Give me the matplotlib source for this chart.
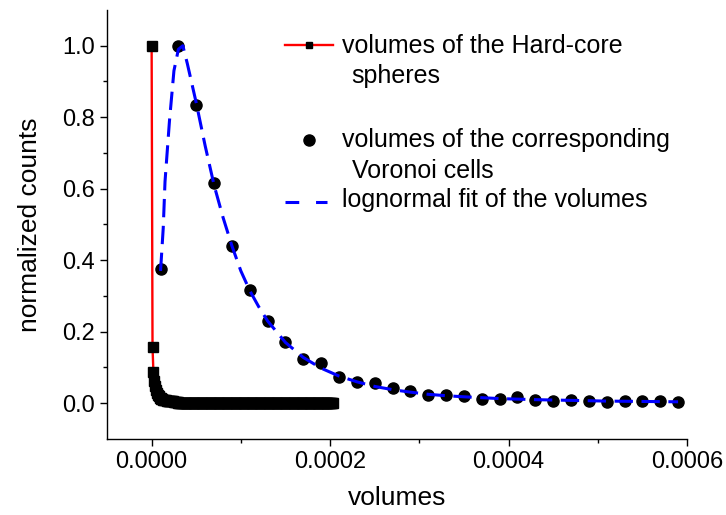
import matplotlib
matplotlib.use("Agg")
import matplotlib.pyplot as plt
import numpy as np
from matplotlib.lines import Line2D

plt.rcParams["font.family"] = ["Liberation Sans", "DejaVu Sans"]

# hard-core spheres: histogram with bin width 1e-6
hc_bin = 1e-6
hc_head = [1.0, 0.157, 0.087, 0.062, 0.047, 0.037, 0.030, 0.024, 0.019, 0.016,
           0.014, 0.012, 0.011, 0.010, 0.009, 0.008, 0.008, 0.007, 0.007, 0.006,
           0.006, 0.006, 0.005, 0.005, 0.005, 0.004, 0.004, 0.004, 0.004, 0.003]
hc_tail_level = 0.002
hc_tail_count = 174

# voronoi cells: histogram with bins centred at 1e-5, 3e-5, ...
vor_x = [1e-5, 3e-5, 5e-5, 7e-5, 9e-5, 1.1e-4, 1.3e-4, 1.5e-4, 1.7e-4, 1.9e-4,
         2.1e-4, 2.3e-4, 2.5e-4, 2.7e-4, 2.9e-4, 3.1e-4, 3.3e-4, 3.5e-4, 3.7e-4, 3.9e-4,
         4.1e-4, 4.3e-4, 4.5e-4, 4.7e-4, 4.9e-4, 5.1e-4, 5.3e-4, 5.5e-4, 5.7e-4, 5.9e-4]
vor_y = [0.375, 1.0, 0.835, 0.615, 0.439, 0.318, 0.231, 0.172, 0.123, 0.112,
         0.072, 0.060, 0.056, 0.044, 0.033, 0.023, 0.023, 0.019, 0.013, 0.013,
         0.017, 0.008, 0.006, 0.008, 0.006, 0.004, 0.006, 0.006, 0.006, 0.004]

# lognormal fit
fit_x = [1.0e-5, 1.3e-5, 1.5e-5, 2.0e-5, 2.5e-5, 3.0e-5, 3.5e-5, 4.0e-5, 5.0e-5, 6.0e-5,
         7.0e-5, 8.0e-5, 9.0e-5, 1.0e-4, 1.1e-4, 1.2e-4, 1.3e-4, 1.5e-4, 1.7e-4, 1.9e-4,
         2.1e-4, 2.3e-4, 2.5e-4, 2.7e-4, 2.9e-4, 3.1e-4, 3.3e-4, 3.5e-4, 3.9e-4, 4.3e-4,
         4.7e-4, 5.1e-4, 5.5e-4, 5.9e-4]
fit_y = [0.37, 0.49, 0.62, 0.79, 0.93, 0.99, 1.00, 0.95, 0.84, 0.72,
         0.61, 0.52, 0.44, 0.37, 0.315, 0.27, 0.23, 0.17, 0.128, 0.098,
         0.076, 0.06, 0.047, 0.038, 0.031, 0.025, 0.021, 0.018, 0.013, 0.010,
         0.008, 0.006, 0.005, 0.004]

labels = ["volumes of the Hard-core", "spheres",
          "volumes of the corresponding", "Voronoi cells",
          "lognormal fit of the volumes"]


def plot_volumes():
    hc_y = hc_head + [hc_tail_level] * hc_tail_count
    hc_x = np.arange(len(hc_y)) * hc_bin

    fig = plt.figure(figsize=(7.26, 5.15), dpi=100)
    ax = fig.add_axes([0.1474, 0.1476, 0.7989, 0.833])

    ax.plot(hc_x, hc_y, color="red", lw=1.7, marker="s", ms=6.5,
            mfc="black", mec="black", zorder=3)
    ax.plot(vor_x, vor_y, ls="none", marker="o", ms=8, color="black", zorder=4)
    ax.plot(fit_x, fit_y, color="blue", lw=2.2, dashes=(6, 2.8), zorder=5)

    ax.set_xlim(-5e-5, 6e-4)
    ax.set_ylim(-0.1, 1.1)
    ax.set_xticks([0, 2e-4, 4e-4, 6e-4])
    ax.set_xticklabels(["0.0000", "0.0002", "0.0004", "0.0006"])
    ax.set_xticks([1e-4, 3e-4, 5e-4], minor=True)
    ax.set_yticks([0.0, 0.2, 0.4, 0.6, 0.8, 1.0])
    ax.set_yticklabels(["0.0", "0.2", "0.4", "0.6", "0.8", "1.0"])
    ax.set_yticks([0.1, 0.3, 0.5, 0.7, 0.9], minor=True)
    ax.tick_params(which="major", length=5, width=1, labelsize=17, pad=4)
    ax.tick_params(which="minor", length=3, width=1)
    for side in ["top", "right"]:
        ax.spines[side].set_visible(False)
    for side in ["left", "bottom"]:
        ax.spines[side].set_linewidth(1)

    ax.set_xlabel("volumes", fontsize=19, labelpad=9)
    ax.set_ylabel("normalized counts", fontsize=19, labelpad=14)

    # hand-made legend so the handles sit on the first line of each label
    tr = ax.transAxes
    ax.add_line(Line2D([0.307, 0.390], [0.918, 0.918], transform=tr, color="red", lw=1.7))
    ax.add_line(Line2D([0.348], [0.918], transform=tr, ls="none", marker="s", ms=5,
                       mfc="black", mec="black"))
    ax.add_line(Line2D([0.348], [0.697], transform=tr, ls="none", marker="o", ms=8,
                       color="black"))
    ax.add_line(Line2D([0.307, 0.380], [0.553, 0.553], transform=tr, color="blue",
                       lw=2.2, dashes=(4.5, 5.5)))
    ax.text(0.405, 0.900, labels[0], transform=tr, fontsize=18, va="baseline")
    ax.text(0.422, 0.829, labels[1], transform=tr, fontsize=18, va="baseline")
    ax.text(0.405, 0.681, labels[2], transform=tr, fontsize=18, va="baseline")
    ax.text(0.422, 0.609, labels[3], transform=tr, fontsize=18, va="baseline")
    ax.text(0.405, 0.541, labels[4], transform=tr, fontsize=18, va="baseline")

    fig.savefig("out.png", dpi=100)
    plt.close(fig)


if __name__ == "__main__":
    plot_volumes()
